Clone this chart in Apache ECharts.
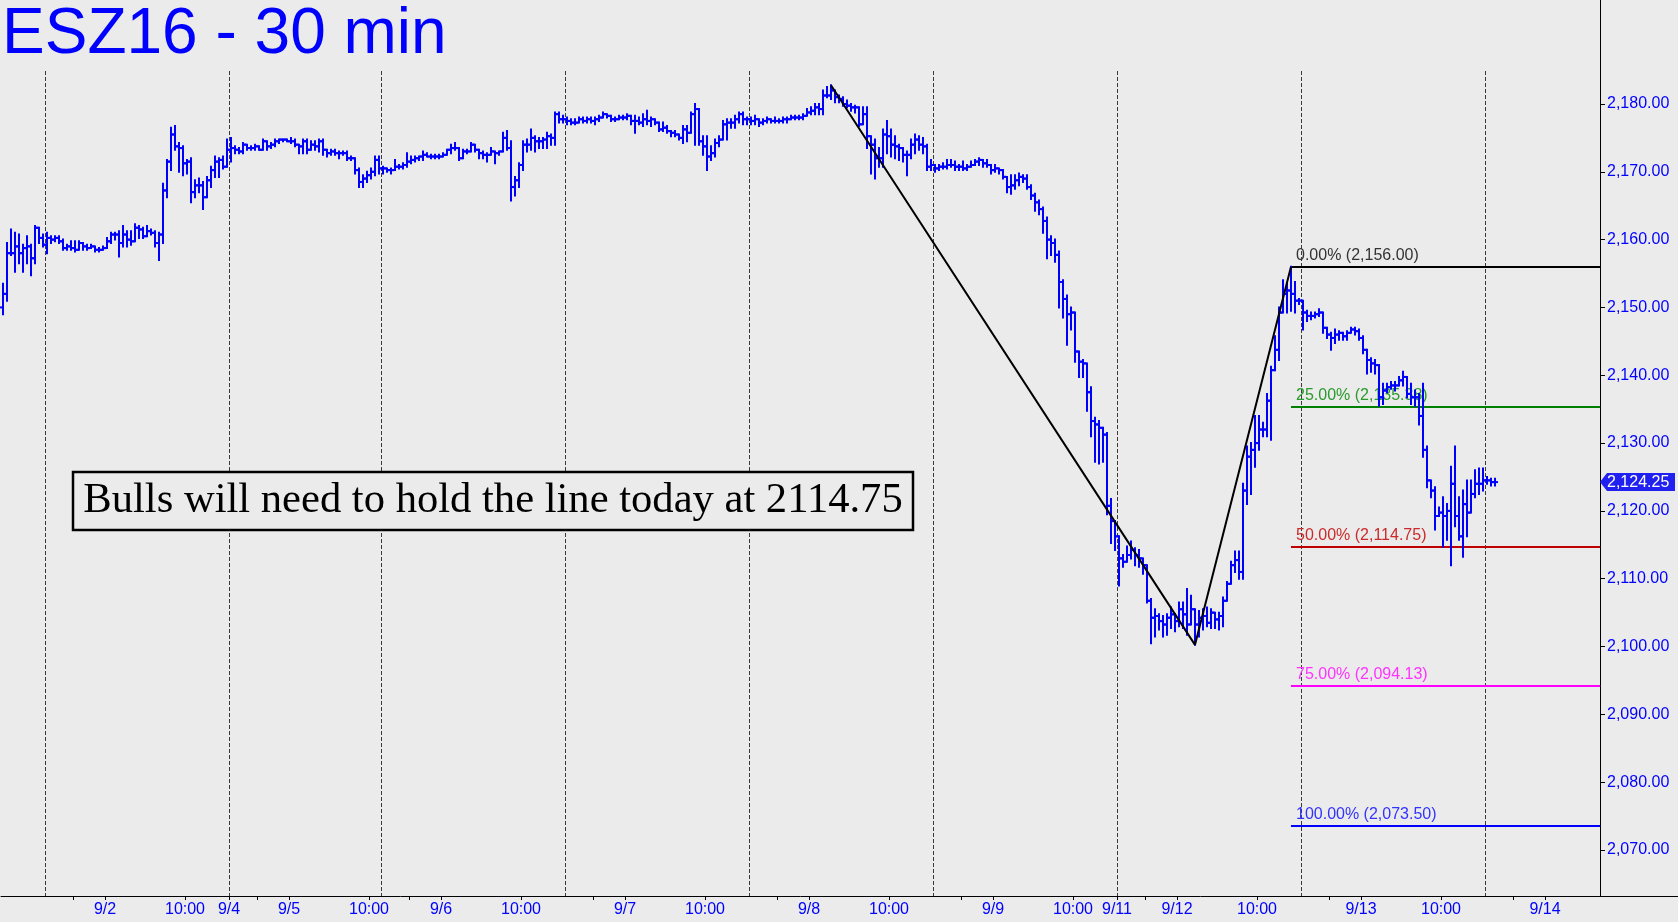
<!DOCTYPE html>
<html><head><meta charset="utf-8">
<script src="https://cdn.jsdelivr.net/npm/echarts@6/dist/echarts.min.js"></script>
<style>html,body{margin:0;padding:0;background:#ebebeb;}#c{width:1678px;height:922px;}</style>
</head><body><div id="c"></div>
<script>
const titleText = 'ESZ16 - 30 min';
const noteText = 'Bulls will need to hold the line today at 2114.75';

// 30-min OHLC bars [open, high, low, close], one array per trading session
const sessPre = [
[2150.0,2153.5,2149.0,2152.0],[2152.0,2159.5,2151.0,2158.0],[2158.0,2161.5,2157.75,2158.0],[2158.0,2161.0,2155.25,2159.0],
[2159.0,2160.75,2156.5,2158.0],[2158.0,2159.25,2155.25,2158.75],[2158.75,2160.5,2156.5,2159.0],[2159.0,2159.25,2154.75,2157.25],
[2157.25,2162.0,2156.5,2161.75],[2161.75,2161.75,2159.5,2160.25],[2160.25,2160.75,2159.0,2159.25]];
const sess0902 = [
[2159.25,2161.0,2158.0,2160.25],[2160.25,2160.5,2159.5,2160.0],[2160.0,2160.5,2159.75,2160.25],[2160.25,2160.5,2159.5,2159.75],
[2159.75,2160.0,2158.5,2158.75],[2158.75,2159.25,2158.5,2159.0],[2159.0,2159.75,2158.5,2158.75],[2158.75,2159.75,2158.25,2158.5],
[2158.5,2159.75,2158.5,2159.5],[2159.5,2159.5,2158.5,2159.0],[2159.0,2159.25,2158.5,2158.75],[2158.75,2159.25,2158.75,2159.0],
[2159.0,2159.0,2158.25,2158.5],[2158.5,2158.75,2158.25,2158.5],[2158.5,2159.0,2158.5,2158.75],[2158.75,2160.25,2158.75,2159.75],
[2159.75,2161.0,2159.5,2160.75],[2160.75,2161.0,2160.0,2160.75],[2160.75,2161.25,2157.5,2159.5],[2159.5,2162.0,2159.0,2160.75],
[2160.75,2161.25,2159.0,2160.0],[2160.0,2161.25,2159.25,2159.75],[2159.75,2162.25,2159.75,2161.75],[2161.75,2162.0,2160.25,2161.5],
[2161.5,2161.75,2160.25,2160.5],[2160.5,2162.0,2160.5,2161.25],[2161.25,2161.5,2160.75,2161.0],[2161.0,2161.25,2159.0,2159.5],
[2159.5,2161.0,2157.0,2160.75],[2160.75,2168.25,2159.5,2167.25],[2167.25,2171.75,2166.25,2171.5],[2171.5,2176.5,2170.25,2175.5],
[2175.5,2176.75,2173.25,2173.75],[2173.75,2174.25,2170.0,2173.5],[2173.5,2173.75,2169.5,2171.25],[2171.25,2171.75,2169.75,2171.5],
[2171.5,2172.0,2165.5,2167.0],[2167.0,2168.75,2166.25,2168.0],[2168.0,2169.0,2167.0,2168.0],[2168.0,2168.5,2164.5,2166.25],
[2166.25,2169.25,2166.25,2168.75],[2168.75,2170.75,2167.75,2170.25],[2170.25,2172.25,2169.25,2171.5],[2171.5,2172.0,2169.25,2171.75],
[2171.75,2172.25,2170.5,2170.75],[2170.75,2174.75,2170.75,2173.25]];
const sess0905 = [
[2173.25,2175.0,2171.5,2173.5],[2173.5,2173.75,2172.75,2173.25],[2173.25,2173.5,2172.75,2173.0],[2173.0,2174.25,2172.75,2174.0],
[2174.0,2174.0,2173.25,2173.5],[2173.5,2173.75,2173.25,2173.5],[2173.5,2174.0,2173.25,2173.75],[2173.75,2173.75,2173.25,2173.25],
[2173.25,2174.75,2173.25,2174.5],[2174.5,2174.5,2173.25,2173.75],[2173.75,2174.25,2173.5,2174.0],[2174.0,2174.75,2173.75,2174.5],
[2174.5,2174.75,2174.25,2174.75],[2174.75,2174.75,2174.5,2174.75],[2174.75,2174.75,2174.5,2174.5],[2174.5,2175.0,2174.25,2174.5],
[2174.5,2174.75,2173.75,2174.0],[2174.0,2174.0,2172.75,2173.75],[2173.75,2174.75,2172.75,2174.5],[2174.5,2174.75,2172.75,2173.25],
[2173.25,2174.5,2173.25,2174.0],[2174.0,2174.5,2173.25,2173.75],[2173.75,2174.75,2173.0,2174.5],[2174.5,2174.75,2172.5,2173.25],
[2173.25,2173.25,2172.25,2172.75],[2172.75,2173.25,2172.5,2173.0],[2173.0,2173.25,2172.5,2172.75],[2172.75,2173.0,2172.0,2172.75],
[2172.75,2173.0,2172.5,2172.75],[2172.75,2173.0,2171.75,2172.0],[2172.0,2172.25,2171.75,2172.0],[2172.0,2172.0,2169.75,2170.25],
[2170.25,2170.5,2167.75,2168.5],[2168.5,2169.5,2167.75,2169.0],[2169.0,2170.0,2168.5,2169.5],[2169.5,2170.5,2169.0,2170.0],
[2170.0,2172.25,2169.5,2171.75],[2171.75,2172.25,2169.75,2170.5]];
const sess0906 = [
[2170.5,2170.75,2169.75,2170.5],[2170.5,2170.5,2170.0,2170.25],[2170.25,2170.5,2169.75,2170.25],[2170.25,2171.75,2170.25,2170.75],
[2170.75,2171.0,2170.5,2170.75],[2170.75,2171.25,2170.5,2171.0],[2171.0,2172.75,2170.75,2171.5],[2171.5,2172.25,2171.25,2171.75],
[2171.75,2172.25,2171.5,2172.0],[2172.0,2172.25,2171.75,2172.25],[2172.25,2173.0,2171.75,2172.5],[2172.5,2172.75,2172.25,2172.25],
[2172.25,2172.5,2172.0,2172.25],[2172.25,2172.5,2172.0,2172.25],[2172.25,2172.5,2172.0,2172.25],[2172.25,2172.75,2172.25,2172.5],
[2172.5,2173.25,2172.5,2173.25],[2173.25,2174.0,2172.75,2173.5],[2173.5,2174.25,2173.25,2173.5],[2173.5,2173.5,2171.75,2172.0],
[2172.0,2173.25,2172.0,2173.0],[2173.0,2173.25,2172.75,2173.0],[2173.0,2174.25,2173.0,2174.0],[2174.0,2174.0,2173.0,2173.25],
[2173.25,2173.25,2172.0,2172.75],[2172.75,2173.0,2172.0,2172.5],[2172.5,2172.75,2171.5,2172.5],[2172.5,2173.5,2172.5,2173.0],
[2173.0,2173.0,2171.25,2172.75],[2172.75,2173.0,2172.5,2173.0],[2173.0,2175.75,2173.0,2175.0],[2175.0,2176.0,2173.25,2173.5],
[2173.5,2174.5,2165.75,2167.75],[2167.75,2169.25,2166.5,2168.75],[2168.75,2171.25,2167.75,2171.0],[2171.0,2174.5,2170.25,2174.0],
[2174.0,2174.75,2173.0,2174.0],[2174.0,2176.25,2173.25,2175.0],[2175.0,2175.25,2173.0,2174.5],[2174.5,2175.0,2173.5,2174.5],
[2174.5,2175.0,2173.5,2174.75],[2174.75,2175.75,2173.5,2175.25],[2175.25,2175.5,2174.0,2175.0],[2175.0,2178.75,2174.0,2178.5],
[2178.5,2178.75,2177.25,2177.75],[2177.75,2178.25,2177.25,2177.75]];
const sess0907 = [
[2177.75,2178.0,2177.0,2177.5],[2177.5,2177.75,2177.0,2177.25],[2177.25,2177.75,2177.0,2177.25],[2177.25,2178.0,2177.25,2177.75],
[2177.75,2178.0,2177.25,2177.5],[2177.5,2178.0,2177.25,2177.75],[2177.75,2178.0,2177.25,2177.5],[2177.5,2178.0,2177.0,2177.75],
[2177.75,2178.25,2177.5,2178.0],[2178.0,2178.75,2178.0,2178.5],[2178.5,2178.5,2178.0,2178.25],[2178.25,2178.25,2177.5,2177.75],
[2177.75,2178.0,2177.5,2177.75],[2177.75,2178.25,2177.75,2178.0],[2178.0,2178.25,2177.75,2178.0],[2178.0,2178.5,2177.75,2178.25],
[2178.25,2178.25,2177.0,2177.5],[2177.5,2178.25,2175.75,2177.5],[2177.5,2178.0,2177.0,2177.25],[2177.25,2178.5,2176.75,2177.75],
[2177.75,2179.0,2177.0,2177.5],[2177.5,2178.0,2176.75,2177.75],[2177.75,2177.75,2177.0,2177.25],[2177.25,2177.25,2176.0,2176.25],
[2176.25,2177.25,2176.0,2176.5],[2176.5,2176.75,2175.75,2176.0],[2176.0,2176.0,2175.25,2175.75],[2175.75,2176.0,2175.25,2175.5],
[2175.5,2175.5,2174.75,2175.0],[2175.0,2176.75,2174.25,2176.25],[2176.25,2176.75,2174.5,2175.75],[2175.75,2178.75,2175.75,2178.5],
[2178.5,2180.0,2174.0,2179.25],[2179.25,2179.25,2174.0,2174.5],[2174.5,2175.25,2172.5,2173.75],[2173.75,2175.25,2170.25,2172.25],
[2172.25,2173.75,2171.75,2172.75],[2172.75,2174.75,2172.25,2174.25],[2174.25,2175.25,2173.75,2174.75],[2174.75,2177.5,2174.75,2177.0],
[2177.0,2177.75,2174.75,2177.25],[2177.25,2177.75,2176.5,2177.25],[2177.25,2178.25,2176.5,2177.75],[2177.75,2178.75,2177.25,2178.5],
[2178.5,2178.75,2177.0,2177.75],[2177.75,2178.0,2177.0,2177.75]];
const sess0908 = [
[2177.75,2178.0,2177.0,2177.5],[2177.5,2178.25,2177.0,2177.75],[2177.75,2177.75,2176.75,2177.25],[2177.25,2177.75,2177.0,2177.5],
[2177.5,2178.0,2177.25,2177.75],[2177.75,2177.75,2177.25,2177.5],[2177.5,2178.0,2177.25,2177.5],[2177.5,2177.75,2177.25,2177.5],
[2177.5,2178.0,2177.25,2177.75],[2177.75,2178.0,2177.25,2177.75],[2177.75,2178.25,2177.75,2178.0],[2178.0,2178.25,2177.75,2178.0],
[2178.0,2178.25,2177.75,2178.0],[2178.0,2178.5,2177.75,2178.25],[2178.25,2179.25,2178.25,2178.75],[2178.75,2179.5,2178.5,2179.0],
[2179.0,2180.0,2178.5,2179.5],[2179.5,2180.0,2178.5,2179.25],[2179.25,2182.0,2178.5,2181.25],[2181.25,2182.5,2181.0,2181.25],
[2181.25,2182.75,2180.75,2182.0],[2182.0,2182.0,2180.25,2181.0],[2181.0,2181.25,2180.25,2180.75],[2180.75,2181.0,2179.75,2180.0],
[2180.0,2180.5,2179.5,2179.75],[2179.75,2180.0,2179.0,2179.5],[2179.5,2179.75,2178.75,2179.5],[2179.5,2179.5,2176.75,2177.0],
[2177.0,2179.5,2177.0,2178.5],[2178.5,2179.5,2173.5,2175.25],[2175.25,2175.25,2169.75,2174.0],[2174.0,2174.75,2169.0,2172.0],
[2172.0,2173.5,2170.75,2172.0],[2172.0,2176.25,2170.75,2175.5],[2175.5,2177.5,2172.75,2175.25],[2175.25,2176.25,2172.25,2174.0],
[2174.0,2175.25,2172.0,2173.75],[2173.75,2174.0,2171.75,2173.5],[2173.5,2173.5,2171.5,2172.5],[2172.5,2173.0,2169.5,2172.5],
[2172.5,2174.75,2172.0,2174.0],[2174.0,2175.5,2172.75,2174.75],[2174.75,2175.25,2173.25,2174.0],[2174.0,2175.0,2172.75,2173.75],
[2173.75,2174.0,2170.25,2170.75],[2170.75,2171.75,2170.25,2171.0]];
const sess0909 = [
[2171.0,2171.0,2170.0,2170.5],[2170.5,2171.0,2170.25,2170.75],[2170.75,2171.25,2170.5,2170.75],[2170.75,2171.75,2170.5,2171.0],
[2171.0,2171.75,2170.75,2171.0],[2171.0,2171.5,2170.25,2170.75],[2170.75,2171.0,2170.25,2170.75],[2170.75,2171.5,2170.25,2170.5],
[2170.5,2171.0,2170.25,2170.75],[2170.75,2171.5,2170.75,2171.0],[2171.0,2171.75,2171.0,2171.5],[2171.5,2172.0,2171.0,2171.75],
[2171.75,2171.75,2170.75,2171.25],[2171.25,2171.75,2170.75,2171.0],[2171.0,2171.0,2169.75,2170.25],[2170.25,2171.0,2170.0,2170.5],
[2170.5,2170.5,2169.75,2170.25],[2170.25,2170.25,2169.0,2169.25],[2169.25,2169.25,2167.0,2167.75],[2167.75,2169.5,2166.75,2168.0],
[2168.0,2169.5,2167.5,2168.75],[2168.75,2169.75,2168.0,2169.25],[2169.25,2169.5,2168.5,2169.0],[2169.0,2169.5,2167.5,2167.75],
[2167.75,2168.0,2166.0,2166.5],[2166.5,2166.75,2164.25,2165.5],[2165.5,2165.75,2163.75,2164.5],[2164.5,2164.75,2161.0,2162.75],
[2162.75,2163.25,2157.25,2160.0],[2160.0,2160.5,2157.75,2159.5],[2159.5,2160.0,2156.75,2157.75],[2157.75,2158.25,2150.0,2153.75],
[2153.75,2154.0,2148.5,2151.25],[2151.25,2151.75,2144.5,2149.0],[2149.0,2150.0,2146.75,2149.25],[2149.25,2149.25,2142.0,2143.5],
[2143.5,2143.5,2139.75,2142.0],[2142.0,2142.25,2139.75,2141.75],[2141.75,2141.75,2134.75,2137.5],[2137.5,2138.25,2131.0,2133.25],
[2133.25,2133.75,2127.25,2132.75],[2132.75,2133.25,2127.0,2132.25],[2132.25,2132.25,2127.25,2131.25],[2131.25,2131.5,2119.5,2120.75],
[2120.75,2121.75,2115.25,2118.5],[2118.5,2118.5,2114.25,2116.25]];
const sess0912 = [
[2116.25,2116.25,2109.0,2113.0],[2113.0,2113.5,2111.75,2112.5],[2112.5,2114.75,2112.5,2113.5],[2113.5,2115.5,2113.0,2114.25],
[2114.25,2114.5,2112.0,2113.5],[2113.5,2114.25,2111.75,2113.0],[2113.0,2113.0,2110.75,2112.0],[2112.0,2112.0,2106.5,2106.75],
[2106.75,2107.0,2100.5,2104.25],[2104.25,2105.5,2101.5,2104.5],[2104.5,2104.75,2102.5,2103.75],[2103.75,2104.5,2101.5,2103.25],
[2103.25,2104.75,2101.75,2104.25],[2104.25,2105.75,2102.75,2104.75],[2104.75,2104.75,2102.25,2103.75],[2103.75,2106.5,2103.0,2105.5],
[2105.5,2106.5,2102.75,2104.75],[2104.75,2108.5,2101.75,2103.25],[2103.25,2107.5,2103.25,2105.5],[2105.5,2105.5,2100.25,2103.25],
[2103.25,2105.25,2101.5,2104.25],[2104.25,2105.5,2102.5,2104.5],[2104.5,2105.75,2103.0,2103.5],[2103.5,2105.5,2102.75,2105.0],
[2105.0,2105.0,2102.75,2104.0],[2104.0,2105.0,2102.5,2104.5],[2104.5,2107.25,2103.0,2106.75],[2106.75,2109.5,2106.75,2109.25],
[2109.25,2112.5,2109.25,2112.0],[2112.0,2114.0,2111.0,2112.75],[2112.75,2114.0,2110.0,2111.0],[2111.0,2124.0,2110.0,2123.0],
[2123.0,2129.5,2121.0,2128.0],[2128.0,2130.0,2122.5,2129.0],[2129.0,2134.0,2126.5,2130.0],[2130.0,2134.0,2129.0,2132.0],
[2132.0,2133.0,2131.0,2132.0],[2132.0,2137.25,2131.0,2136.25],[2136.25,2141.25,2130.5,2140.75],[2140.75,2145.75,2140.75,2143.75],
[2143.75,2150.0,2142.25,2149.25],[2149.25,2154.0,2149.25,2152.0],[2152.0,2153.5,2149.25,2152.5],[2152.5,2156.0,2149.5,2152.0],
[2152.0,2153.75,2149.25,2151.0],[2151.0,2151.25,2150.5,2151.0]];
const sess0913 = [
[2151.0,2151.0,2146.75,2149.25],[2149.25,2149.5,2148.0,2148.75],[2148.75,2149.25,2148.25,2148.75],[2148.75,2149.25,2148.5,2149.0],
[2149.0,2149.75,2148.75,2149.25],[2149.25,2149.25,2146.25,2147.0],[2147.0,2147.0,2145.5,2146.0],[2146.0,2146.25,2143.75,2145.5],
[2145.5,2146.75,2144.75,2146.0],[2146.0,2146.5,2145.25,2146.25],[2146.25,2146.25,2145.25,2145.75],[2145.75,2146.5,2145.25,2146.25],
[2146.25,2147.0,2146.25,2146.75],[2146.75,2147.0,2146.0,2146.5],[2146.5,2146.75,2145.25,2145.5],[2145.5,2145.75,2143.25,2143.75],
[2143.75,2143.75,2140.25,2142.25],[2142.25,2142.5,2140.5,2141.75],[2141.75,2142.25,2140.25,2141.5],[2141.5,2141.5,2135.5,2136.75],
[2136.75,2138.75,2135.75,2137.75],[2137.75,2138.75,2137.5,2138.25],[2138.25,2139.0,2138.0,2138.5],[2138.5,2139.0,2137.75,2138.5],
[2138.5,2139.75,2138.5,2139.25],[2139.25,2140.5,2138.5,2139.75],[2139.75,2139.75,2136.75,2137.25],[2137.25,2138.75,2135.75,2136.75],
[2136.75,2137.75,2135.5,2136.75],[2136.75,2137.25,2132.75,2134.0],[2134.0,2138.75,2128.0,2129.0],[2129.0,2129.5,2123.5,2124.5],
[2124.5,2124.5,2122.0,2123.0],[2123.0,2123.5,2117.25,2119.25],[2119.25,2120.5,2119.25,2119.75],[2119.75,2122.0,2114.75,2119.25],
[2119.25,2121.0,2115.75,2120.0],[2120.0,2126.5,2112.0,2124.0],[2124.0,2129.5,2117.75,2119.25],[2119.25,2122.0,2115.75,2116.25],
[2116.25,2123.0,2113.25,2121.0],[2121.0,2124.5,2116.25,2119.75],[2119.75,2124.5,2119.75,2122.5],[2122.5,2126.0,2122.0,2124.0],
[2124.0,2126.25,2122.5,2124.0],[2124.0,2126.25,2123.0,2124.5]];
const sess0914 = [
[2124.5,2125.0,2124.0,2124.5],[2124.5,2124.75,2123.75,2124.25],[2124.25,2124.75,2123.75,2124.25]];
const sessions = [sessPre, sess0902, sess0905, sess0906, sess0907, sess0908, sess0909, sess0912, sess0913, sess0914];

// x-axis ticks (bar-slot positions) and labels
const xLabelPos = [26, 46, 57, 72, 92, 110, 130, 156, 176, 202, 222, 248, 268, 279, 294, 314, 340, 360, 386];
const xLabelText = ['9/2','10:00','9/4','9/5','10:00','9/6','10:00','9/7','10:00','9/8','10:00','9/9','10:00','9/11','9/12','10:00','9/13','10:00','9/14'];
const xMinorTicks = [18, 64, 102, 148, 194, 240, 286, 332, 378];
const yTickValues = [2070, 2080, 2090, 2100, 2110, 2120, 2130, 2140, 2150, 2160, 2170, 2180];

// swing line (bar index, price) and retracement levels
const swingPoints = [[207, 2182.75], [298, 2100.25], [322, 2156.00]];
const fibPct = [0, 25, 50, 75, 100];
const fibLevels = [2156.00, 2135.375, 2114.75, 2094.125, 2073.50];
const lastPrice = 2124.25;

// ---------- build ----------
const bars = [];
const sessionStarts = [];
let n = 0;
sessions.forEach((s, k) => {
  if (k > 0) sessionStarts.push(n);
  s.forEach(b => { bars.push([n + 0.5, b[0], b[1], b[2], b[3]]); n++; });
});
const labelMap = {};
xLabelPos.forEach((p, i) => { labelMap[p] = xLabelText[i]; });

function fmt(v) {
  const s = v.toFixed(2).split('.');
  return s[0].replace(/\B(?=(\d{3})+(?!\d))/g, ',') + '.' + s[1];
}
const FONT = '"Liberation Sans", Arial, Helvetica, sans-serif';
const fibLineColors = ['#000000', '#008000', '#c00000', '#ff00ff', '#0000ff'];
const fibTextColors = ['#333333', '#2a9a2a', '#cc2a2a', '#ff33ff', '#3333ff'];

const chart = echarts.init(document.getElementById('c'), null, { renderer: 'canvas' });
const option = {
  backgroundColor: '#ebebeb',
  animation: false,
  grid: { left: 1, right: 78, top: 0, bottom: 26, containLabel: false },
  xAxis: {
    type: 'value', min: 0, max: 399.75,
    axisLine: { show: true, onZero: false, lineStyle: { color: '#000', width: 1 } },
    splitLine: { show: false },
    axisTick: { show: true, customValues: xLabelPos.concat(xMinorTicks), length: 4, lineStyle: { color: '#000' } },
    axisLabel: { show: true, customValues: xLabelPos, formatter: v => labelMap[Math.round(v)] || '',
      color: '#0000ff', fontSize: 16, fontFamily: FONT, margin: 6 }
  },
  yAxis: {
    type: 'value', position: 'right', min: 2063.22, max: 2195.33, scale: true,
    axisLine: { show: true, onZero: false, lineStyle: { color: '#000', width: 1 } },
    splitLine: { show: false },
    axisTick: { show: true, customValues: yTickValues, length: 5, lineStyle: { color: '#000' } },
    axisLabel: { show: true, customValues: yTickValues, formatter: v => fmt(v),
      color: '#0000ff', fontSize: 16, fontFamily: FONT, margin: 7 }
  },
  series: [
    { // session separators
      type: 'custom', z: 1, silent: true,
      data: sessionStarts.map(v => [v, 2120]),
      renderItem: (params, api) => {
        const x = Math.round(api.coord([api.value(0), 2120])[0]) + 0.5;
        const cs = params.coordSys;
        return { type: 'line', shape: { x1: x, y1: 71, x2: x, y2: cs.y + cs.height },
          style: { stroke: '#3a3a3a', lineWidth: 1, lineDash: [4, 2] } };
      }
    },
    { // retracement levels
      type: 'custom', z: 2, silent: true, clip: false,
      data: fibLevels.map((lv, k) => [swingPoints[2][0] + 0.5, lv, fibPct[k], k]),
      renderItem: (params, api) => {
        const p = api.coord([api.value(0), api.value(1)]);
        const k = api.value(3);
        const cs = params.coordSys;
        const y = Math.round(p[1]);
        return { type: 'group', children: [
          { type: 'line', shape: { x1: p[0], y1: y, x2: cs.x + cs.width, y2: y },
            style: { stroke: fibLineColors[k], lineWidth: 2 } },
          { type: 'text', x: p[0] + 5, y: y - 3,
            style: { text: api.value(2).toFixed(2) + '% (' + fmt(api.value(1)) + ')', fill: fibTextColors[k],
              font: '16px ' + FONT, align: 'left', verticalAlign: 'bottom' } }
        ]};
      }
    },
    { // OHLC bars
      type: 'custom', z: 3, silent: true,
      data: bars,
      encode: { x: 0, y: [1, 2, 3, 4] },
      renderItem: (params, api) => {
        const x = api.value(0);
        const pH = api.coord([x, api.value(2)]);
        const pL = api.coord([x, api.value(3)]);
        const yO = api.coord([x, api.value(1)])[1];
        const yC = api.coord([x, api.value(4)])[1];
        const cx = Math.round(pH[0]);
        const st = { stroke: '#0000ff', lineWidth: 2 };
        return { type: 'group', children: [
          { type: 'line', shape: { x1: cx, y1: pH[1] - 1, x2: cx, y2: pL[1] + 1 }, style: st },
          { type: 'line', shape: { x1: cx - 3, y1: yO, x2: cx, y2: yO }, style: st },
          { type: 'line', shape: { x1: cx, y1: yC, x2: cx + 3, y2: yC }, style: st }
        ]};
      }
    },
    { // swing lines
      type: 'line', z: 4, silent: true, symbol: 'none',
      data: swingPoints.map(s => [s[0] + 0.5, s[1]]),
      lineStyle: { color: '#000', width: 2 }
    },
    { // last price tag
      type: 'custom', z: 10, silent: true, clip: false,
      data: [[0, lastPrice]],
      renderItem: (params, api) => {
        const y = api.coord([0, api.value(1)])[1];
        const cs = params.coordSys;
        const x0 = cs.x + cs.width;
        return { type: 'group', children: [
          { type: 'polygon', shape: { points: [[x0, y], [x0 + 7, y - 9], [x0 + 75, y - 9], [x0 + 75, y + 9], [x0 + 7, y + 9]] },
            style: { fill: '#2020f0' } },
          { type: 'text', x: x0 + 7, y: y + 0.5,
            style: { text: fmt(api.value(1)), fill: '#ffffff', font: '16px ' + FONT, align: 'left', verticalAlign: 'middle' } }
        ]};
      }
    }
  ],
  graphic: [
    { type: 'text', x: 2, y: 35, z: 20,
      style: { text: titleText, fill: '#0000ff', font: '64px ' + FONT, align: 'left', verticalAlign: 'middle' } },
    { type: 'rect', z: 20, shape: { x: 73, y: 472, width: 840, height: 58 },
      style: { fill: '#ebebeb', stroke: '#000', lineWidth: 2.5 } },
    { type: 'text', x: 493, y: 501, z: 21,
      style: { text: noteText, fill: '#000', font: '42.6px "Liberation Serif", "Times New Roman", serif', align: 'center', verticalAlign: 'middle' } },
    { type: 'line', z: 20, shape: { x1: 1600, y1: 896.5, x2: 1678, y2: 896.5 }, style: { stroke: '#000', lineWidth: 1 } }
  ]
};
chart.setOption(option);
</script>
</body></html>
